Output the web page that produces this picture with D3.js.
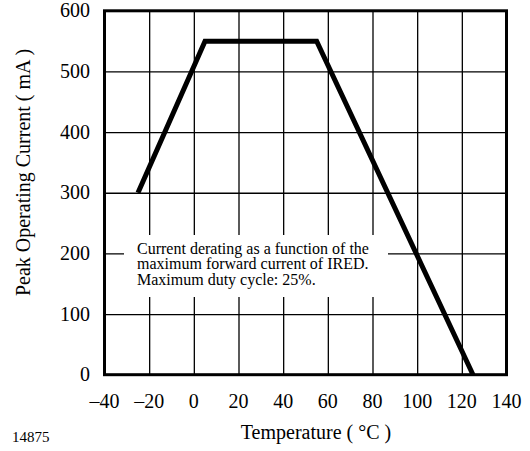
<!DOCTYPE html>
<html>
<head>
<meta charset="utf-8">
<script src="https://cdn.jsdelivr.net/npm/d3@7"></script>
<style>
  body { margin: 0; background: #fff; }
  text { font-family: "Liberation Serif", "Times New Roman", serif; fill: #000; }
</style>
</head>
<body>
<div id="plot"></div>
<script>
const temps = [-25, 5, 55, 125];
const currents = [300, 550, 550, 0];

const xTicks = [-40, -20, 0, 20, 40, 60, 80, 100, 120, 140];
const yTicks = [0, 100, 200, 300, 400, 500, 600];

const noteLines = [
  "Current derating as a function of the",
  "maximum forward current of IRED.",
  "Maximum duty cycle: 25%."
];

const width = 530;
const height = 451;
const plotLeft = 104.5, plotRight = 506.5, plotTop = 10.8, plotBottom = 374.7;

const svg = d3.select("#plot").append("svg")
  .attr("width", width)
  .attr("height", height);

const x = d3.scaleLinear().domain([-40, 140]).range([plotLeft, plotRight]);
const y = d3.scaleLinear().domain([0, 600]).range([plotBottom, plotTop]);

// grid
svg.append("g")
  .attr("transform", `translate(0, ${plotBottom})`)
  .call(d3.axisBottom(x).tickValues(xTicks).tickSize(-(plotBottom - plotTop)).tickFormat(""))
  .call(g => g.select(".domain").remove())
  .call(g => g.selectAll("line").attr("stroke", "#000").attr("stroke-width", 1.3));

svg.append("g")
  .attr("transform", `translate(${plotLeft}, 0)`)
  .call(d3.axisLeft(y).tickValues(yTicks).tickSize(-(plotRight - plotLeft)).tickFormat(""))
  .call(g => g.select(".domain").remove())
  .call(g => g.selectAll("line").attr("stroke", "#000").attr("stroke-width", 1.3));

// tick labels
svg.append("g").selectAll("text")
  .data(xTicks)
  .enter()
  .append("text")
  .attr("x", d => x(d))
  .attr("y", 408)
  .attr("text-anchor", "middle")
  .attr("font-size", 20)
  .text(d => d < 0 ? "\u2013" + Math.abs(d) : d);

svg.append("g").selectAll("text")
  .data(yTicks)
  .enter()
  .append("text")
  .attr("x", 90)
  .attr("y", d => y(d))
  .attr("dy", "0.33em")
  .attr("text-anchor", "end")
  .attr("font-size", 20)
  .text(d => d);

// note box
svg.append("rect")
  .attr("x", 124)
  .attr("y", 235)
  .attr("width", 264)
  .attr("height", 62)
  .attr("fill", "#fff");

svg.append("g").selectAll("text")
  .data(noteLines)
  .enter()
  .append("text")
  .attr("x", 137)
  .attr("y", (d, i) => 254 + i * 15.4)
  .attr("font-size", 16)
  .text(d => d);

// curve
const line = d3.line()
  .x(d => x(d[0]))
  .y(d => y(d[1]));

svg.append("path")
  .datum(temps.map((t, i) => [t, currents[i]]))
  .attr("d", line)
  .attr("fill", "none")
  .attr("stroke", "#000")
  .attr("stroke-width", 5)
  .attr("stroke-linejoin", "miter");

// frame
svg.append("rect")
  .attr("x", plotLeft)
  .attr("y", plotTop)
  .attr("width", plotRight - plotLeft)
  .attr("height", plotBottom - plotTop)
  .attr("fill", "none")
  .attr("stroke", "#000")
  .attr("stroke-width", 3);

// axis titles
svg.append("text")
  .attr("x", 316)
  .attr("y", 439)
  .attr("text-anchor", "middle")
  .attr("font-size", 20)
  .text("Temperature ( \u00B0C )");

svg.append("text")
  .attr("transform", "translate(30, 172.5) rotate(-90)")
  .attr("text-anchor", "middle")
  .attr("font-size", 20)
  .text("Peak Operating Current ( mA )");

svg.append("text")
  .attr("x", 12)
  .attr("y", 442)
  .attr("font-size", 15)
  .text("14875");
</script>
</body>
</html>
